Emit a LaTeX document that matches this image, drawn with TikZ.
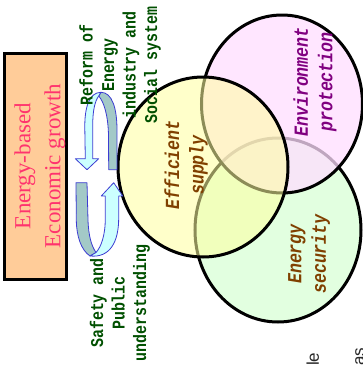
\documentclass[tikz,border=0pt]{standalone}
\usepackage{fontspec}
\setmainfont{Liberation Serif}
\setsansfont{Liberation Sans}
\newfontfamily\labelmono[FakeStretch=0.83]{Liberation Mono}
\definecolor{boxfill}{RGB}{255,204,153}
\definecolor{boxtext}{RGB}{255,51,110}
\definecolor{labelgreen}{RGB}{0,80,0}
\definecolor{labelbrown}{RGB}{128,64,0}
\definecolor{labelpurple}{RGB}{128,0,128}
\definecolor{supplyfill}{RGB}{255,255,160}
\definecolor{envfill}{RGB}{255,222,255}
\definecolor{securefill}{RGB}{226,255,224}
\definecolor{bandcyan}{RGB}{204,255,255}
\definecolor{bandgray}{RGB}{163,201,199}
\definecolor{bandline}{RGB}{60,60,210}
\begin{document}
\begin{tikzpicture}[x=1pt,y=-1pt,
  ring/.style={draw=black, line width=3pt},
  backband/.style={fill=bandgray, draw=bandline, line width=0.8pt, line join=round},
  frontband/.style={fill=bandcyan, draw=bandline, line width=0.8pt, line join=round},
  greenlabel/.style={rotate=90, align=center, inner sep=0pt, text=labelgreen,
    font=\labelmono\bfseries\fontsize{18}{21.5}\selectfont},
  circlelabel/.style={rotate=90, align=center, inner sep=0pt,
    font=\labelmono\bfseries\itshape\fontsize{20}{24.5}\selectfont},
  pagetext/.style={rotate=90, inner sep=0pt, text={rgb,255:red,40;green,40;blue,40},
    font=\sffamily\fontsize{17}{20}\selectfont}]
\clip (0,0) rectangle (363,368);
\fill[white] (0,0) rectangle (363,368);

% three overlapping goals
\draw[ring, fill=securefill] (278,230) ellipse [x radius=83, y radius=92];
\draw[ring, fill=envfill, fill opacity=0.75] (282,104) ellipse [x radius=80.5, y radius=89];
\draw[ring, fill=supplyfill, fill opacity=0.55] (203,167) ellipse [x radius=85, y radius=90];

% growth box
\node (growthbox) [draw=black, line width=3pt, fill=boxfill, inner sep=0pt,
  minimum width=62.5pt, minimum height=225.5pt] at (35.75,166.25) {};
\node (growth) [rotate=90, align=center, inner sep=0pt, text=boxtext,
  font=\fontsize{23}{30}\selectfont] at (40,166) {Energy-based\\Economic growth};

% upper circular arrow (turning down)
\draw[backband] (101,92.3) .. controls (112,92.3) and (117,108) .. (117,130)
  -- (117,169.7) -- (108.7,169.7) -- (108.5,135)
  .. controls (108,115) and (104,102) .. (98.7,96) -- cycle;
\draw[frontband] (101,92.3) .. controls (89,92.3) and (84.5,108) .. (84.8,128)
  -- (85.3,158.7) -- (75.3,158.7) -- (87,169.7) -- (98.7,158.7) -- (92.7,158.7)
  -- (92.7,126) .. controls (92.7,110) and (95,101) .. (98.7,96) -- cycle;

% lower circular arrow (turning up)
\draw[backband] (76,182.7) -- (87,182.7) -- (88,220)
  .. controls (88.5,236) and (91.5,246) .. (96,252.5) -- (90,256)
  .. controls (81,250) and (76.5,236) .. (76.3,220) -- cycle;
\draw[frontband] (90,256) .. controls (110,258) and (118.7,242) .. (118.7,218)
  -- (118.7,196) -- (122.7,196) -- (113.7,182.7) -- (101.3,196) -- (105.3,196)
  -- (105.3,218) .. controls (105.3,236) and (101,247) .. (96,252.5) -- cycle;

% labels
\node (reform) [greenlabel] at (120,65) {Reform of\\Energy\\industry and\\Social system};
\node (safety) [greenlabel] at (120,303) {Safety and\\Public\\understanding};
\node (supply) [circlelabel, text=labelbrown] at (186,165) {Efficient\\supply};
\node (environment) [circlelabel, text=labelpurple] at (315,82) {Environment\\protection};
\node (security) [circlelabel, text=labelbrown] at (309,254) {Energy\\security};

% running text of the page, cut at the edge
\node (pagele) [pagetext, anchor=base west] at (319,366) {le};
\node (pageas) [pagetext, anchor=base west] at (364.5,366) {as};
\end{tikzpicture}
\end{document}
